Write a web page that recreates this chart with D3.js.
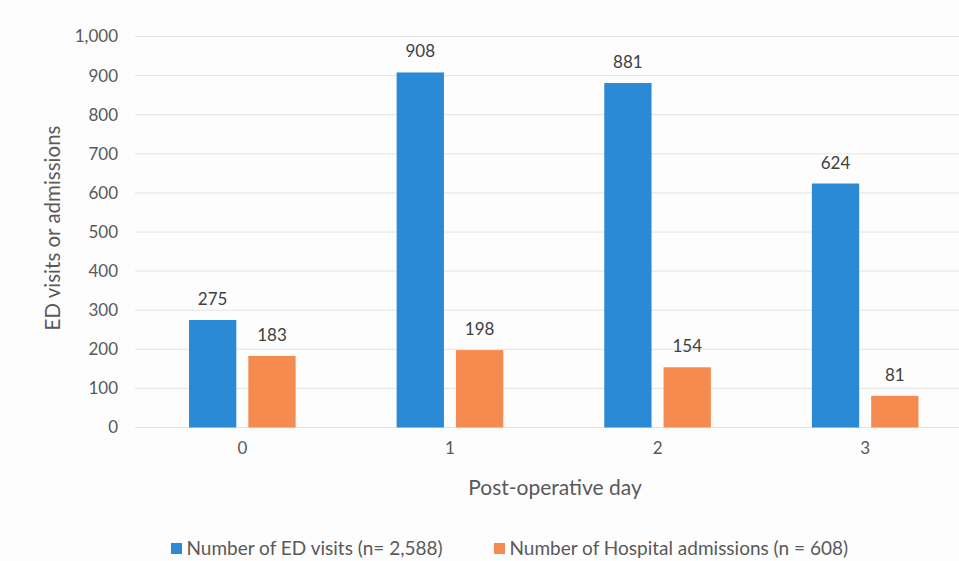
<!DOCTYPE html>
<html>
<head>
<meta charset="utf-8">
<script src="https://cdn.jsdelivr.net/npm/d3@7"></script>
<style>
  html, body { margin: 0; padding: 0; background: #fdfdfd; }
  svg { display: block; }
  text { font-family: Lato, "Open Sans", sans-serif; }
</style>
</head>
<body>
<svg id="chart" width="959" height="561"></svg>
<script>
// Post-operative days on the x axis
const days = ["0", "1", "2", "3"];
// ED visits per day
const edVisits = [275, 908, 881, 624];
// Hospital admissions per day
const admissions = [183, 198, 154, 81];
// Series names shown in the legend
const seriesNames = ["Number of ED visits (n= 2,588)", "Number of Hospital admissions (n = 608)"];
// Y axis ticks
const yTicks = [0, 100, 200, 300, 400, 500, 600, 700, 800, 900, 1000];

const colors = ["#2b8ad6", "#f68b50"];
const series = [edVisits, admissions];

const svg = d3.select("#chart");
const W = 959, H = 561;
const plot = { left: 138.5, right: 969, top: 36.5, bottom: 427.5 };

const x0 = d3.scaleBand()
  .domain(days)
  .range([plot.left, plot.right])
  .paddingInner(0.4865)
  .paddingOuter(0.24325);

const x1 = d3.scaleBand()
  .domain([0, 1])
  .range([0, x0.bandwidth()])
  .paddingInner(0.2024)
  .paddingOuter(0);

const y = d3.scaleLinear().domain([0, 1000]).range([plot.bottom, plot.top]);

// Horizontal gridlines
svg.append("g")
  .selectAll("line")
  .data(yTicks)
  .join("line")
  .attr("x1", 135)
  .attr("x2", W)
  .attr("y1", d => y(d))
  .attr("y2", d => y(d))
  .attr("stroke", "#e4e4e4")
  .attr("stroke-width", 1);

// Y axis tick labels
const yAxis = d3.axisLeft(y)
  .tickValues(yTicks)
  .tickFormat(d3.format(","))
  .tickSize(0)
  .tickPadding(0);
const gy = svg.append("g")
  .attr("transform", "translate(118,0)")
  .call(yAxis);
gy.select(".domain").remove();
gy.selectAll("text")
  .attr("fill", "#595959")
  .style("font-size", "17px")
  .style("font-family", "Lato, sans-serif");

// X axis tick labels
const xAxis = d3.axisBottom(x0).tickSize(0).tickPadding(0);
const gx = svg.append("g")
  .attr("transform", `translate(0,${plot.bottom + 14})`)
  .call(xAxis);
gx.select(".domain").remove();
gx.selectAll("text")
  .attr("fill", "#595959")
  .style("font-size", "17px")
  .style("font-family", "Lato, sans-serif");

// Bars
const groups = svg.append("g")
  .selectAll("g")
  .data(days)
  .join("g")
  .attr("transform", d => `translate(${x0(d)},0)`);

groups.selectAll("rect")
  .data((d, i) => series.map((s, k) => ({ k, v: s[i] })))
  .join("rect")
  .attr("x", d => x1(d.k))
  .attr("width", x1.bandwidth())
  .attr("y", d => y(d.v))
  .attr("height", d => y(0) - y(d.v))
  .attr("fill", d => colors[d.k]);

// Value labels above bars
groups.selectAll("text.val")
  .data((d, i) => series.map((s, k) => ({ k, v: s[i] })))
  .join("text")
  .attr("class", "val")
  .attr("x", d => x1(d.k) + x1.bandwidth() / 2)
  .attr("y", d => y(d.v) - 15)
  .attr("text-anchor", "middle")
  .attr("fill", "#404040")
  .style("font-size", "17px")
  .text(d => d.v);

// Axis titles
svg.append("text")
  .attr("x", 555)
  .attr("y", 495)
  .attr("text-anchor", "middle")
  .attr("fill", "#595959")
  .style("font-size", "21px")
  .text("Post-operative day");

svg.append("text")
  .attr("transform", "translate(60,228) rotate(-90)")
  .attr("text-anchor", "middle")
  .attr("fill", "#595959")
  .style("font-size", "20.5px")
  .text("ED visits or admissions");

// Legend
const legendX = [171, 494];
const legend = svg.append("g")
  .selectAll("g")
  .data(seriesNames)
  .join("g")
  .attr("transform", (d, i) => `translate(${legendX[i]},543)`);
legend.append("rect")
  .attr("width", 11)
  .attr("height", 11)
  .attr("fill", (d, i) => colors[i]);
legend.append("text")
  .attr("x", 15.5)
  .attr("y", 12)
  .attr("fill", "#595959")
  .style("font-size", "19px")
  .text(d => d);
</script>
</body>
</html>
